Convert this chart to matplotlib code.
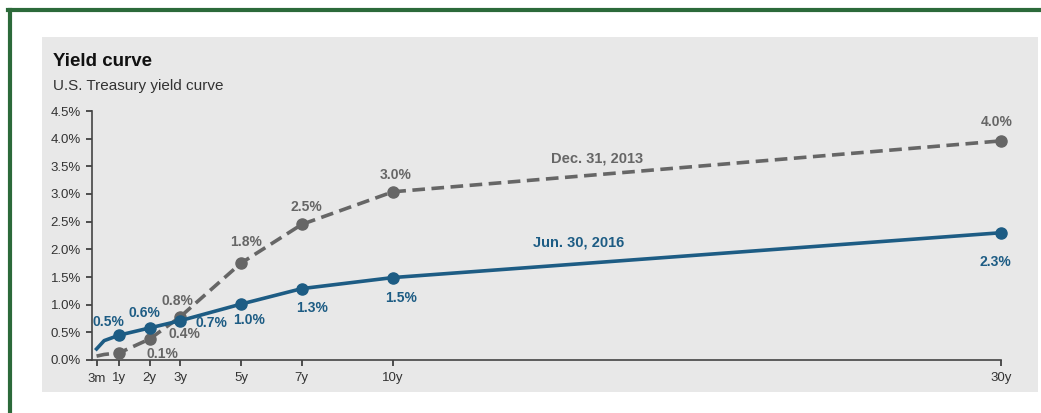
import matplotlib
matplotlib.use('Agg')
import matplotlib.pyplot as plt
from matplotlib.patches import Rectangle
from matplotlib.lines import Line2D

plt.rcParams['font.family'] = ['Liberation Sans', 'DejaVu Sans']

# maturities in years
maturity = [0.25, 0.5, 1, 2, 3, 5, 7, 10, 30]
tick_pos = [0.25, 1, 2, 3, 5, 7, 10, 30]
tick_labels = ['3m', '1y', '2y', '3y', '5y', '7y', '10y', '30y']

dec_2013 = [0.07, 0.10, 0.13, 0.38, 0.78, 1.75, 2.45, 3.04, 3.96]
jun_2016 = [0.20, 0.35, 0.45, 0.58, 0.71, 1.01, 1.29, 1.49, 2.30]

dec_labels = ['0.1%', '0.4%', '0.8%', '1.8%', '2.5%', '3.0%', '4.0%']
jun_labels = ['0.5%', '0.6%', '0.7%', '1.0%', '1.3%', '1.5%', '2.3%']

blue = '#1d5c84'
grey = '#666666'

fig = plt.figure(figsize=(10.41, 4.13), dpi=100)

# frame + grey panel
fig.add_artist(Line2D([8/1041, 1041/1041], [1-10/413, 1-10/413], color='#2c6a3a', lw=3))
fig.add_artist(Line2D([10/1041, 10/1041], [0, 1-10/413], color='#2c6a3a', lw=3))
fig.add_artist(Rectangle((42/1041, 1-392/413), (1038-42)/1041, (392-37)/413,
                         facecolor='#e8e8e8', edgecolor='none', zorder=0))

fig.text(53/1041, 1-62/413, 'Yield curve', fontsize=13.5, fontweight='bold', color='#111111', va='center')
fig.text(53/1041, 1-86/413, 'U.S. Treasury yield curve', fontsize=11, color='#333333', va='center')

ax = fig.add_axes([92/1041, 1-360/413, (1001-92)/1041, (360-111)/413])
ax.patch.set_alpha(0)
ax.set_xlim(0.1, 30)
ax.set_ylim(0, 4.5)

ax.plot(maturity, dec_2013, color=grey, lw=2.6, ls=(0, (3.5, 1.8)), marker='o', ms=8,
        markevery=list(range(2, len(maturity))), zorder=3, clip_on=False)
ax.plot(maturity, jun_2016, color=blue, lw=2.6, marker='o', ms=8,
        markevery=list(range(2, len(maturity))), zorder=4, clip_on=False)

# label offsets in pixels
dec_off = [(43, -1), (35, 5), (-3, 16), (5, 21), (5, 17), (3, 17), (-4, 19)]
jun_off = [(-11, 13), (-5, 15), (31, -2), (8, -16), (10, -19), (8, -20), (-6, -29)]
for i, (lab, off) in enumerate(zip(dec_labels, dec_off)):
    ax.annotate(lab, (maturity[i + 2], dec_2013[i + 2]), xytext=off, textcoords='offset pixels',
                ha='center', va='center', fontsize=10, color=grey, fontweight='bold')
for i, (lab, off) in enumerate(zip(jun_labels, jun_off)):
    ax.annotate(lab, (maturity[i + 2], jun_2016[i + 2]), xytext=off, textcoords='offset pixels',
                ha='center', va='center', fontsize=10, color=blue, fontweight='bold')

ax.text(16.7, 3.65, 'Dec. 31, 2013', fontsize=10.5, color=grey, fontweight='bold', ha='center', va='center')
ax.text(16.1, 2.13, 'Jun. 30, 2016', fontsize=10.5, color=blue, fontweight='bold', ha='center', va='center')

yt = [0, 0.5, 1, 1.5, 2, 2.5, 3, 3.5, 4, 4.5]
ax.set_yticks(yt)
ax.set_yticklabels(['%.1f%%' % v for v in yt])
ax.set_xticks(tick_pos)
ax.set_xticklabels(tick_labels)
ax.tick_params(colors='#333333', labelsize=9.5, length=4, width=1.2)
ax.tick_params(axis='x', pad=5)
ax.tick_params(axis='y', pad=4)
for s in ['top', 'right']:
    ax.spines[s].set_visible(False)
for s in ['left', 'bottom']:
    ax.spines[s].set_color('#444444')
    ax.spines[s].set_linewidth(1.2)

fig.savefig('out.png', dpi=100)
